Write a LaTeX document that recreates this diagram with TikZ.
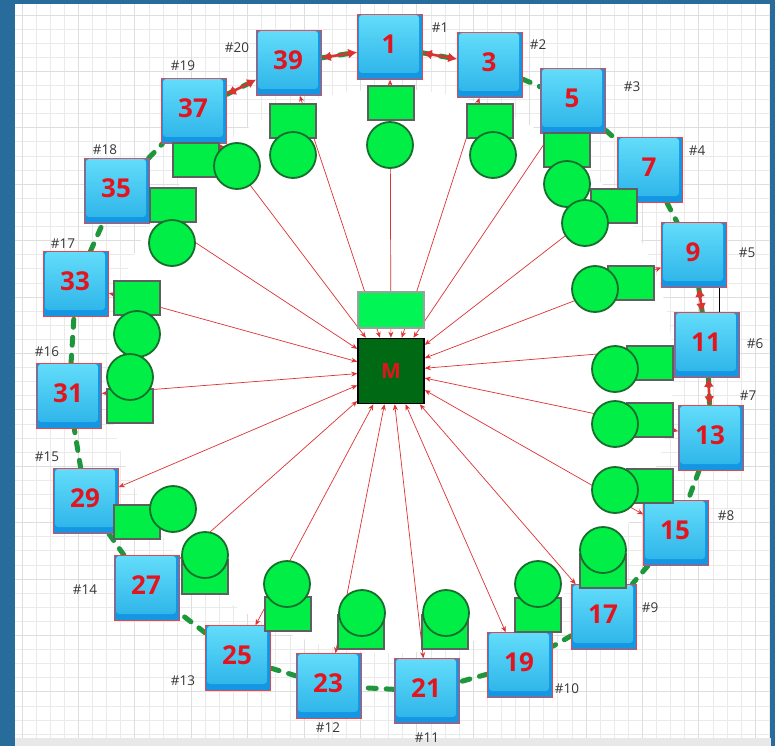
\documentclass[tikz,border=0pt]{standalone}
\usepackage{fontspec}
\setmainfont{Open Sans}
\usetikzlibrary{arrows.meta,calc}
\definecolor{bgblue}{RGB}{40,108,156}
\definecolor{gridc}{RGB}{234,234,234}
\definecolor{gridd}{RGB}{222,222,222}
\definecolor{boxback}{RGB}{20,150,226}
\definecolor{boxtop}{RGB}{98,220,250}
\definecolor{boxbot}{RGB}{48,182,234}
\definecolor{numred}{RGB}{228,20,30}
\definecolor{linered}{RGB}{222,50,50}
\definecolor{gfill}{RGB}{0,238,70}
\definecolor{gedge}{RGB}{25,110,45}
\definecolor{rgray}{RGB}{95,95,95}
\definecolor{dashg}{RGB}{30,150,60}
\definecolor{mfill}{RGB}{0,105,20}
\definecolor{lfill}{RGB}{0,245,85}
\definecolor{tagc}{RGB}{55,55,55}
\definecolor{stripg}{RGB}{232,232,232}
\pgfdeclarelayer{bg}
\pgfdeclarelayer{lines}
\pgfsetlayers{bg,lines,main}
\begin{document}
\begin{tikzpicture}[x=1pt,y=-1pt,
  station/.style={rectangle,minimum size=65pt,inner sep=0pt,fill=boxback,draw=numred!80,line width=0.6pt},
  front/.style={rectangle,rounded corners=3pt,minimum width=60pt,minimum height=58pt,inner sep=0pt,
    top color=boxtop,bottom color=boxbot,draw=none,text=numred,font=\fontsize{26}{26}\selectfont\bfseries},
  tag/.style={inner sep=0pt,text=tagc,font=\fontsize{13.5}{14}\selectfont},
  grect/.style={rectangle,minimum width=46pt,minimum height=34pt,inner sep=0pt,fill=gfill,draw=rgray,line width=1.8pt},
  gcirc/.style={circle,minimum size=46pt,inner sep=0pt,fill=gfill,draw=gedge,line width=1.8pt},
  mbox/.style={rectangle,minimum width=66pt,minimum height=65pt,inner sep=0pt,fill=mfill,draw=black,line width=1.6pt,
    text=numred,font=\fontsize{21}{21}\selectfont\bfseries},
  lrect/.style={rectangle,minimum width=66pt,minimum height=36pt,inner sep=0pt,fill=lfill,draw=gray!75,line width=1.8pt},
  mline/.style={draw=linered,line width=0.7pt,{Stealth[length=6pt,width=5pt]}-{Stealth[length=6pt,width=5pt]}},
  gdash/.style={draw=dashg,line width=5pt,dash pattern=on 8pt off 10pt,line cap=round},
  rarrow/.style={draw=linered,line width=2.6pt,{Latex[length=9pt,width=10pt]}-{Latex[length=9pt,width=10pt]}}
]
\useasboundingbox (0,0) rectangle (775,746);
\begin{pgfonlayer}{bg}
  \fill[bgblue] (0,0) rectangle (775,746);
  \fill[stripg] (15,738) rectangle (771,746);
  \fill[white] (15,4) rectangle (770,738);
  \begin{scope}
    \clip (15,4) rectangle (770,738);
    \foreach \i in {0,...,53}{
      \draw[gridc,line width=0.8pt] (22+14.1*\i,4) -- (22+14.1*\i,738);
      \draw[gridc,line width=0.8pt] (15,15+14.1*\i) -- (770,15+14.1*\i);
    }
    \foreach \i in {0,...,13}{
      \draw[gridd,line width=0.8pt] (22+56.4*\i,4) -- (22+56.4*\i,738);
      \draw[gridd,line width=0.8pt] (15,15+56.4*\i) -- (770,15+56.4*\i);
    }
  \end{scope}
  \fill[white] (391,371) circle[radius=282];
\end{pgfonlayer}

% stations
\foreach \n/\x/\y/\tx/\ty/\t in {
  1/390/47/440/28/1, 3/490/65/538/45/2, 5/573/101/632/87/3, 7/650/170/697/151/4,
  9/694/255/747/253/5, 11/707/345/755/344/6, 13/711/438/748/396/7, 15/676/533/726/516/8,
  17/604/617/650/608/9, 19/520/665/567/689/10, 21/427/691/427/738/11, 23/329/686/328/728/12,
  25/238/658/183/681/13, 27/147/588/85/590/14, 29/86/501/47/457/15, 31/69/396/47/352/16,
  33/76/284/63/244/17, 35/117/191/105/150/18, 37/194/111/183/66/19, 39/289/63/237/48/20}{
  \node[station] (s\n) at (\x,\y) {};
  \node[front] (s\n f) at ([xshift=-1pt,yshift=3pt]s\n.center) {\n};
  \node[tag] (t\t) at (\tx,\ty) {\#\t};
}

% centre
\node[mbox] (M) at (391,371) {M};

% thin black link between 9 and 11
\draw[black,line width=0.6pt] ([xshift=-8pt]s9.south east) -- ([xshift=-8pt]s9.south east |- s11.north);

\begin{pgfonlayer}{lines}
  \foreach \a/\b in {1/3,3/5,5/7,7/9,9/11,11/13,13/15,15/17,17/19,19/21,21/23,23/25,25/27,27/29,29/31,31/33,33/35,35/37,37/39,39/1}{
    \draw[gdash] (s\a) -- (s\b);
  }
  \foreach \n in {1,3,5,7,9,11,13,15,17,19,21,23,25,27,29,31,33,35,37,39}{
    \draw[mline] (M) -- (s\n);
  }
\end{pgfonlayer}

% green rectangles
\foreach \n/\rx/\ry in {1/391/103, 39/293/121, 3/490/121, 37/196/160, 35/173/205, 33/137/298, 31/130/406,
  29/137/522, 27/205/577, 25/288/614, 23/361/632, 21/445/632, 19/538/615, 17/603/571, 15/650/486,
  13/650/420, 11/650/363, 9/631/283, 7/614/206, 5/567/150}{
  \node[grect] (r\n) at (\rx,\ry) {};
}
% green circles
\foreach \n/\cx/\cy in {1/390/145, 39/293/155, 3/493/155, 37/237/166, 35/172/243, 33/137/334, 31/130/377,
  29/173/509, 27/205/555, 25/287/584, 23/362/613, 21/446/613, 19/538/584, 17/603/550, 15/615/490,
  13/615/424, 11/615/369, 9/595/289, 5/567/184, 7/585/223}{
  \node[gcirc] (c\n) at (\cx,\cy) {};
}

\node[lrect] (L) at (391,310) {};

% red links between stations
\draw[rarrow] (s39) -- (s1);
\draw[rarrow] (s1) -- (s3);
\draw[rarrow] (s37) -- (s39);
\draw[rarrow] (s9) -- (s11);
\draw[rarrow] (s11) -- (s13);
\end{tikzpicture}
\end{document}
